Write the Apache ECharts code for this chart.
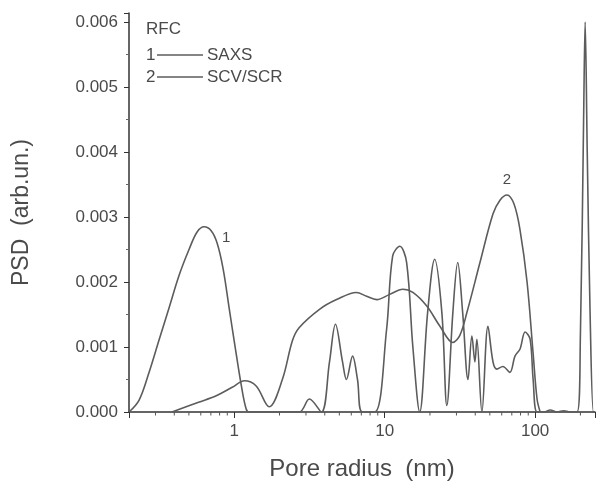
<!DOCTYPE html>
<html>
<head>
<meta charset="utf-8">
<script src="https://cdn.jsdelivr.net/npm/echarts@6/dist/echarts.min.js"></script>
<style>html,body{margin:0;padding:0;background:#fff}#c{width:599px;height:486px}</style>
</head>
<body>
<div id="c"></div>
<script>
// SAXS curve (1): [pore radius nm, PSD]
const saxsR = [0.2,0.233,0.271,0.316,0.369,0.43,0.501,0.567,0.631,0.703,0.77,0.845,0.926,1.015,1.113,1.2,1.26,2.7,3.16,3.8,4.3,4.71,5.25,5.57,6.12,6.6,7.1,8.6,10.3,11.3,12.6,14,15.4,17.1,19.3,21.5,24,25.9,28.4,30.6,33,35.8,38,39.8,41,44.3,48.6,52.5,55.7,61,67.9,73.5,79.4,85.8,92.6,97,103,115,126,140,155,170,190,200,210,215,222,232,244,250];
const saxsV = [0,0.00018,0.0006,0.0011,0.0016,0.0021,0.0025,0.00277,0.00285,0.00279,0.0026,0.0022,0.0016,0.001,0.00042,0.00005,0,0,0.0002,0,0.00077,0.00135,0.00077,0.0005,0.00086,0.0005,0,0,0.00127,0.0024,0.00255,0.0023,0.001,0,0.00153,0.00235,0.00153,0.0001,0.00153,0.0023,0.00153,0.0005,0.00117,0.00077,0.00112,0,0.00132,0.00077,0.00066,0.0007,0.00061,0.00086,0.00097,0.00123,0.00112,0.0005,0,0,0.00003,0,0.00002,0,0,0.0012,0.0045,0.006,0.004,0.0015,0,0];
// SCV/SCR curve (2)
const scvR = [0.386,0.58,0.76,0.97,1.17,1.4,1.71,2.09,2.44,2.71,3.69,4.79,6.5,7.59,8.85,10.8,13.2,15.4,19.05,23.3,28.4,31.6,35.2,43,52.5,58.4,65,72.4,79.4,88.4,97,103,108];
const scvV = [0,0.00015,0.00025,0.00038,0.00048,0.0004,0.00008,0.0005,0.0011,0.0013,0.00158,0.00173,0.00184,0.00178,0.00173,0.00181,0.00189,0.00184,0.00163,0.00132,0.00107,0.00118,0.00153,0.0023,0.00305,0.00326,0.00334,0.0032,0.0028,0.002,0.0009,0.0002,0];
// x axis labelled decades and minor tick values
const xMajor = [1,10,100];
const xMinor = [0.3,0.4,0.5,0.6,0.7,0.8,0.9,2,3,4,5,6,7,8,9,20,30,40,50,60,70,80,90,200];
// peak labels [r, value, text]
const peakLabels = [[0.885,0.00268,'1'],[65,0.00357,'2']];
const legendTitle = 'RFC';
const seriesNames = ['SAXS','SCV/SCR'];

const saxs = saxsR.map((r,i)=>[r,saxsV[i]]);
const scv = scvR.map((r,i)=>[r,scvV[i]]);
const lineCol = '#5c5c5c';
const txtCol = '#4a4a4a';
const fontFam = '"Liberation Sans", Arial, sans-serif';

const chart = echarts.init(document.getElementById('c'), null, {renderer:'canvas'});
const mp = (lbl)=>({symbol:'circle',symbolSize:0,
  label:{show:true,position:'inside',formatter:p=>p.name,fontFamily:fontFam,fontSize:15,color:txtCol},
  data:[{name:lbl[2],coord:[lbl[0],lbl[1]]}]});
chart.setOption({
  backgroundColor:'#fff',
  animation:false,
  grid:{left:129,right:4,top:13,bottom:73},
  xAxis:{
    type:'log', min:0.2, max:250, logBase:10,
    name:'Pore radius  (nm)', nameLocation:'middle', nameGap:45,
    nameTextStyle:{fontFamily:fontFam,fontSize:24,color:txtCol},
    axisLine:{lineStyle:{color:'#333',width:1.5}},
    axisTick:{show:true,inside:false,length:6,lineStyle:{color:'#333'}, interval:0},
    axisLabel:{fontFamily:fontFam,fontSize:17,color:txtCol,margin:11,
      formatter:v=>xMajor.some(m=>Math.abs(m-v)<1e-6*m)?String(Math.round(v)):''},
    splitLine:{show:false}
  },
  yAxis:{
    type:'value', min:0, max:0.00614, interval:0.001,
    name:'PSD  (arb.un.)', nameLocation:'middle', nameGap:96,
    nameTextStyle:{fontFamily:fontFam,fontSize:23,color:txtCol},
    axisLine:{show:true,lineStyle:{color:'#333',width:1.5}},
    axisTick:{show:true,inside:false,length:5,lineStyle:{color:'#333'}},
    minorTick:{show:true,splitNumber:2,length:3,lineStyle:{color:'#666'}},
    axisLabel:{fontFamily:fontFam,fontSize:17,color:txtCol,margin:11,showMaxLabel:false,
      formatter:v=>{const k=Math.round(v*1000); return Math.abs(v*1000-k)<1e-6?v.toFixed(3):'';}},
    splitLine:{show:false}
  },
  series:[
    {name:seriesNames[0],type:'line',data:saxs,showSymbol:false,smooth:0.35,
     lineStyle:{color:lineCol,width:1.6}, markPoint:mp(peakLabels[0])},
    {name:seriesNames[1],type:'line',data:scv,showSymbol:false,smooth:0.35,
     lineStyle:{color:lineCol,width:1.6}, markPoint:mp(peakLabels[1])},
    {type:'custom',data:xMinor.map(v=>[v,0]),silent:true,clip:false,
     renderItem:(params,api)=>{const p=api.coord([api.value(0),0]);
       return {type:'line',shape:{x1:p[0],y1:p[1],x2:p[0],y2:p[1]+3.5},style:{stroke:'#555',lineWidth:1}};}}
  ],
  graphic:[
    {type:'text',x:146,y:29,style:{text:legendTitle,font:'17px '+fontFam,fill:txtCol,textVerticalAlign:'middle'}},
    {type:'text',x:146,y:55,style:{text:'1',font:'17px '+fontFam,fill:txtCol,textVerticalAlign:'middle'}},
    {type:'line',shape:{x1:157,y1:55,x2:203,y2:55},style:{stroke:lineCol,lineWidth:1.4}},
    {type:'text',x:207,y:55,style:{text:seriesNames[0],font:'17px '+fontFam,fill:txtCol,textVerticalAlign:'middle'}},
    {type:'text',x:146,y:77,style:{text:'2',font:'17px '+fontFam,fill:txtCol,textVerticalAlign:'middle'}},
    {type:'line',shape:{x1:157,y1:77,x2:203,y2:77},style:{stroke:lineCol,lineWidth:1.4}},
    {type:'text',x:207,y:77,style:{text:seriesNames[1],font:'17px '+fontFam,fill:txtCol,textVerticalAlign:'middle'}}
  ]
});
</script>
</body>
</html>
